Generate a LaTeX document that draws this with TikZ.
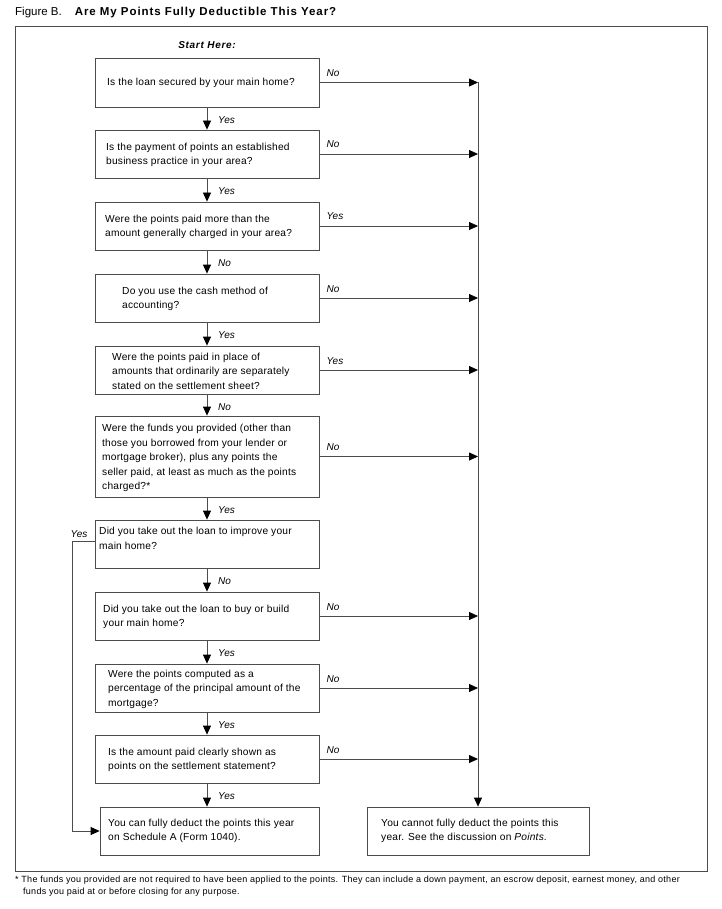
\documentclass[tikz,border=0pt]{standalone}
\usepackage{fontspec}
\setmainfont{Liberation Sans}
\usetikzlibrary{arrows.meta}
\definecolor{linec}{gray}{0.3}
\begin{document}
\begin{tikzpicture}[x=1pt,y=-1pt,
  box/.style={draw=linec, line width=0.8pt, inner sep=0pt, minimum width=224pt, minimum height=48pt},
  txt/.style={inner sep=0pt, align=left, anchor=west, font=\fontsize{10.2}{14.6}\selectfont\addfontfeature{LetterSpace=2}},
  lab/.style={inner sep=0pt, font=\fontsize{10}{11}\selectfont\itshape},
  conn/.style={draw=linec, line width=0.8pt},
  arr/.style={conn, -{Triangle[length=9pt,width=8pt,color=black]}}
]
\useasboundingbox (0,0) rectangle (721,909);
\fill[white] (0,0) rectangle (721,909);

% title and frame
\node[inner sep=0pt, anchor=base west, font=\fontsize{11.5}{13}\selectfont] (title) at (15,16)
  {Figure B.\hspace{13pt}{\bfseries\addfontfeature{LetterSpace=8}Are My Points Fully Deductible This Year?}};
\draw[conn] (15,26) rectangle (707,871);
\node[inner sep=0pt, font=\fontsize{10}{11}\selectfont\bfseries\itshape\addfontfeature{LetterSpace=7}] (start) at (207,45) {Start Here:};

% boxes
\node[box, minimum height=49pt] (b1) at (207,82.5) {};
\node[box] (b2) at (207,154) {};
\node[box] (b3) at (207,226) {};
\node[box] (b4) at (207,298) {};
\node[box] (b5) at (207,370) {};
\node[box, minimum height=81pt] (b6) at (207,456.5) {};
\node[box] (b7) at (207,544) {};
\node[box] (b8) at (207,616) {};
\node[box] (b9) at (207,688) {};
\node[box] (b10) at (207,759) {};
\node[box, minimum width=219pt] (b11) at (209.5,831) {};
\node[box, minimum width=222pt] (b12) at (478,831) {};

% box texts
\node[txt] (t1) at (107,83) {Is the loan secured by your main home?};
\node[txt] (t2) at (106,155) {Is the payment of points an established\\business practice in your area?};
\node[txt] (t3) at (105,227) {Were the points paid more than the\\amount generally charged in your area?};
\node[txt] (t4) at (122,299) {Do you use the cash method of\\accounting?};
\node[txt] (t5) at (112,371) {Were the points paid in place of\\amounts that ordinarily are separately\\stated on the settlement sheet?};
\node[txt] (t6) at (102,458) {Were the funds you provided (other than\\those you borrowed from your lender or\\mortgage broker), plus any points the\\seller paid, at least as much as the points\\charged?*};
\node[txt, anchor=north west] (t7) at (99,527) {Did you take out the loan to improve your\\main home?};
\node[txt] (t8) at (103,617) {Did you take out the loan to buy or build\\your main home?};
\node[txt] (t9) at (108,689) {Were the points computed as a\\percentage of the principal amount of the\\mortgage?};
\node[txt] (t10) at (108,760) {Is the amount paid clearly shown as\\points on the settlement statement?};
\node[txt] (t11) at (108,831) {You can fully deduct the points this year\\on Schedule A (Form 1040).};
\node[txt] (t12) at (381,831) {You cannot fully deduct the points this\\year. See the discussion on \textit{Points}.};

% spine on the right
\coordinate (spTop) at (478,82.5);
\draw[arr] (spTop) -- (b12.north);

% down arrows
\draw[arr] (b1.south) -- (b2.north);
\draw[arr] (b2.south) -- (b3.north);
\draw[arr] (b3.south) -- (b4.north);
\draw[arr] (b4.south) -- (b5.north);
\draw[arr] (b5.south) -- (b6.north);
\draw[arr] (b6.south) -- (b7.north);
\draw[arr] (b7.south) -- (b8.north);
\draw[arr] (b8.south) -- (b9.north);
\draw[arr] (b9.south) -- (b10.north);
\draw[arr] (b10.south) -- (b10.south |- b11.north);

% down labels
\foreach \b/\t in {b1/Yes,b2/Yes,b3/No,b4/Yes,b5/No,b6/Yes,b7/No,b8/Yes,b9/Yes,b10/Yes}
  \node[lab, anchor=base west] (d\b) at ([xshift=11pt,yshift=-16pt]\b.south) {\t};

% right arrows
\foreach \b in {b1,b2,b3,b4,b5,b6,b8,b9,b10}
  \draw[arr] (\b.east) -- (\b.east -| spTop);

% right labels
\foreach \b/\t in {b1/No,b2/No,b3/Yes,b4/No,b5/Yes,b6/No,b8/No,b9/No,b10/No}
  \node[lab, anchor=base west] (r\b) at ([xshift=7pt,yshift=6pt]\b.east) {\t};

% left Yes loop
\coordinate (y7) at ([yshift=3pt]b7.west);
\coordinate (lx) at (72,540);
\draw[arr] (y7) -- (y7 -| lx) -- (lx |- b11.west) -- (b11.west);
\node[lab, anchor=base east] (ly) at ([xshift=-7pt,yshift=4pt]y7) {Yes};

% footnote
\node[inner sep=0pt, anchor=north west, align=left, font=\fontsize{9}{12}\selectfont\addfontfeature{LetterSpace=3}] (fn) at (15,876)
  {* The funds you provided are not required to have been applied to the points. They can include a down payment, an escrow deposit, earnest money, and other\\
   \hspace*{8pt}funds you paid at or before closing for any purpose.};
\end{tikzpicture}
\end{document}
